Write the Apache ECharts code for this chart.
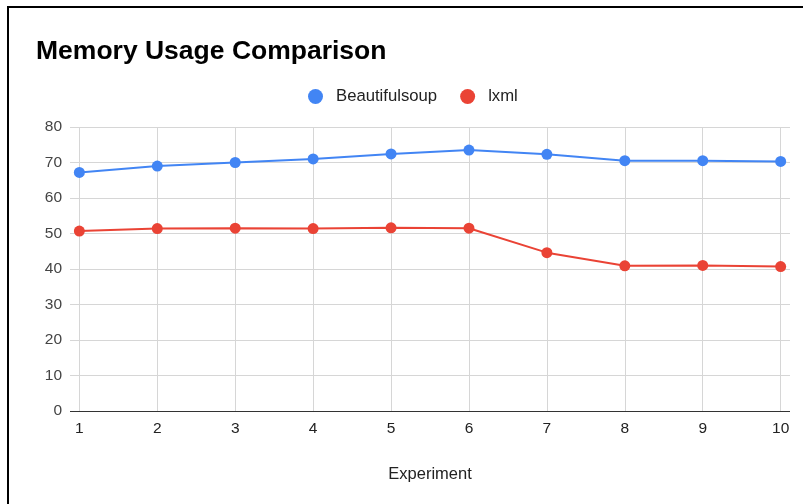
<!DOCTYPE html>
<html><head><meta charset="utf-8">
<script src="https://cdn.jsdelivr.net/npm/echarts@6/dist/echarts.min.js"></script>
<style>html,body{margin:0;padding:0;background:#fff}#c{width:803px;height:504px}</style>
</head><body><div id="c"></div>
<script>
const experiments = [1,2,3,4,5,6,7,8,9,10];
const beautifulsoup = [67.2,69.0,70.0,71.0,72.4,73.5,72.3,70.5,70.5,70.3];
const lxml = [50.7,51.4,51.5,51.4,51.6,51.5,44.6,40.9,41.0,40.7];
const yTicks = [0,10,20,30,40,50,60,70,80];

const chart = echarts.init(document.getElementById('c'));
const font = 'Arial, "Liberation Sans", sans-serif';
chart.setOption({
  animation:false,
  textStyle:{fontFamily:font},
  graphic:[{type:'rect',shape:{x:8,y:7,width:900,height:600},style:{fill:'none',stroke:'#000',lineWidth:2},z:100}],
  title:{text:'Memory Usage Comparison',left:31,top:33,textStyle:{fontSize:26.5,fontWeight:'bold',color:'#000',fontFamily:font}},
  legend:{top:83,left:303,itemWidth:15,itemHeight:15,itemGap:23,icon:'circle',
    textStyle:{fontSize:16.7,color:'#222',fontFamily:font,padding:[0,0,0,8]},
    data:['Beautifulsoup','lxml']},
  grid:{left:70,right:13,top:127,bottom:93,containLabel:false},
  xAxis:{type:'value',min:experiments[0]-0.12,max:experiments[experiments.length-1]+0.12,
    name:'Experiment',nameLocation:'middle',nameGap:55,
    nameTextStyle:{fontSize:16.5,color:'#222',fontFamily:font},
    axisLine:{show:false},
    axisTick:{show:false,customValues:experiments},
    axisLabel:{customValues:experiments,fontSize:15.5,color:'#222',margin:10,fontFamily:font},
    splitLine:{show:false}},
  yAxis:{type:'value',min:yTicks[0],max:yTicks[yTicks.length-1],interval:10,
    axisLine:{show:false},axisTick:{show:false},
    axisLabel:{fontSize:15.5,color:'#444',margin:8,fontFamily:font},
    splitLine:{lineStyle:{color:'#d6d6d6',width:1}}},
  series:[
    {name:'Beautifulsoup',type:'line',data:experiments.map((x,i)=>[x,beautifulsoup[i]]),
      symbol:'circle',symbolSize:11,color:'#4285F4',lineStyle:{width:2},z:5,
      markLine:{silent:true,symbol:'none',label:{show:false},
        lineStyle:{color:'#d6d6d6',width:1,type:'solid'},
        data:experiments.map(x=>({xAxis:x}))}},
    {name:'lxml',type:'line',data:experiments.map((x,i)=>[x,lxml[i]]),
      symbol:'circle',symbolSize:11,color:'#EA4335',lineStyle:{width:2},z:5,
      markLine:{silent:true,symbol:'none',label:{show:false},
        lineStyle:{color:'#333',width:1,type:'solid'},
        data:[{yAxis:0}]}}
  ]
});
</script></body></html>
